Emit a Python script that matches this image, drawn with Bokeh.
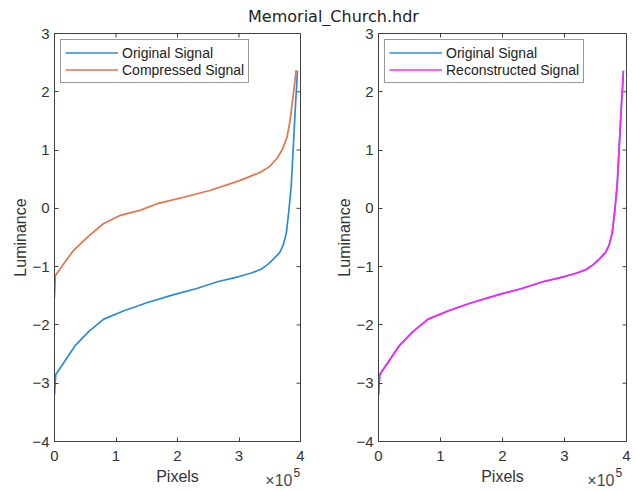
import math
from bokeh.plotting import figure
from bokeh.models import Label, FixedTicker, Range1d
from bokeh.layouts import column, row
from bokeh.embed import file_html
from bokeh.resources import INLINE

title_text = "Memorial_Church.hdr"
x_label = "Pixels"
y_label = "Luminance"
x_ticks = [0, 100000, 200000, 300000, 400000]
x_tick_labels = ["0", "1", "2", "3", "4"]
x_scale_base = "×10"
x_scale_exp = "5"
y_ticks = [-4, -3, -2, -1, 0, 1, 2, 3]

# Original signal (luminance, sorted)
orig_x = [0, 2000, 15000, 34000, 55000, 80000, 112000, 150000, 194000, 230000,
          265000, 300000, 320000, 335000, 346000, 356000, 366000, 372000, 377000,
          381000, 385000, 389000, 392000, 394000, 395000]
orig_y = [-3.2, -2.85, -2.65, -2.35, -2.12, -1.9, -1.76, -1.62, -1.48, -1.38,
          -1.26, -1.17, -1.11, -1.05, -0.97, -0.87, -0.76, -0.63, -0.42,
          -0.05, 0.4, 1.2, 1.8, 2.15, 2.36]

# Compressed signal
comp_x = [0, 1500, 15000, 31000, 55000, 80000, 107000, 140000, 167000, 210000,
          254000, 302000, 335000, 350000, 362000, 371000, 378000, 383000, 387000,
          390000, 393000]
comp_y = [-1.53, -1.15, -0.95, -0.72, -0.48, -0.26, -0.12, -0.03, 0.08, 0.19,
          0.31, 0.48, 0.62, 0.72, 0.86, 1.02, 1.22, 1.5, 1.85, 2.1, 2.37]

# Reconstructed signal
recon_x = [0, 2000, 15000, 34000, 55000, 80000, 112000, 150000, 194000, 230000,
           265000, 300000, 320000, 335000, 346000, 356000, 366000, 372000, 377000,
           381000, 385000, 389000, 392000, 394000, 395000]
recon_y = [-3.2, -2.85, -2.65, -2.35, -2.12, -1.9, -1.76, -1.62, -1.48, -1.38,
           -1.26, -1.17, -1.11, -1.05, -0.97, -0.87, -0.76, -0.63, -0.42,
           -0.05, 0.4, 1.2, 1.8, 2.15, 2.36]

BLUE = "#2b8cd6"
ORANGE = "#e4744a"
MAGENTA = "#ff22ff"
AX = "#404040"
FONT = "Liberation Sans"
X_MIN, X_MAX = 0, 400000
Y_MIN, Y_MAX = -4, 3


def make_panel(width, border_left, border_right):
    p = figure(width=width, height=441, x_range=Range1d(X_MIN, X_MAX),
               y_range=Range1d(Y_MIN, Y_MAX), toolbar_location=None,
               output_backend="svg", min_border_left=border_left,
               min_border_right=border_right, min_border_top=7,
               min_border_bottom=26)
    p.xgrid.visible = False
    p.ygrid.visible = False
    p.outline_line_color = AX
    p.outline_line_width = 1
    p.background_fill_color = "white"
    p.border_fill_color = "white"

    for ax in p.xaxis:
        ax.ticker = FixedTicker(ticks=x_ticks)
        ax.major_label_overrides = {t: l for t, l in zip(x_ticks, x_tick_labels)}
        ax.major_label_standoff = 9
    for ax in p.yaxis:
        ax.ticker = FixedTicker(ticks=y_ticks)
        ax.axis_label = y_label
        ax.major_label_standoff = 5
        ax.axis_label_standoff = 0
    for ax in p.xaxis + p.yaxis:
        ax.major_tick_in = 4
        ax.major_tick_out = 0
        ax.minor_tick_line_color = None
        ax.axis_line_color = AX
        ax.major_tick_line_color = AX
        ax.major_label_text_font = FONT
        ax.major_label_text_font_size = "15px"
        ax.major_label_text_color = "#333333"
        ax.axis_label_text_font = FONT
        ax.axis_label_text_font_size = "16px"
        ax.axis_label_text_font_style = "normal"
        ax.axis_label_text_color = "#333333"

    # box ticks on the top and right edges (MATLAB "box on")
    p.ray(x=x_ticks, y=[Y_MAX] * len(x_ticks), length=4, length_units="screen",
          angle=-math.pi / 2, line_color=AX, line_width=1)
    p.ray(x=[X_MAX] * len(y_ticks), y=y_ticks, length=4, length_units="screen",
          angle=math.pi, line_color=AX, line_width=1)
    return p


def style_legend(p):
    lg = p.legend[0]
    lg.location = "top_left"
    lg.margin = 6
    lg.padding = 4
    lg.spacing = 0
    lg.glyph_width = 53
    lg.glyph_height = 17
    lg.label_height = 17
    lg.label_standoff = 4
    lg.label_text_font = FONT
    lg.label_text_font_size = "14px"
    lg.label_text_color = "#222222"
    lg.border_line_color = "#333333"
    lg.border_line_width = 1.5
    lg.background_fill_alpha = 1


left = make_panel(318, 54, 18)
left.line(orig_x, orig_y, line_color=BLUE, line_width=1.7, legend_label="Original Signal")
left.line(comp_x, comp_y, line_color=ORANGE, line_width=1.7, legend_label="Compressed Signal")
style_legend(left)

right = make_panel(317, 60, 9)
right.line(orig_x, orig_y, line_color=BLUE, line_width=1.7, legend_label="Original Signal")
right.line(recon_x, recon_y, line_color=MAGENTA, line_width=1.7,
           legend_label="Reconstructed Signal")
style_legend(right)


def strip(width, height):
    s = figure(width=width, height=height, x_range=Range1d(0, width),
               y_range=Range1d(0, height), toolbar_location=None,
               output_backend="svg", min_border=0,
               x_axis_location=None, y_axis_location=None)
    s.xgrid.visible = False
    s.ygrid.visible = False
    s.outline_line_color = None
    return s


head = strip(635, 26)
head.add_layout(Label(x=333, y=10, text=title_text, text_align="center",
                      text_baseline="middle", text_font="DejaVu Sans",
                      text_font_size="16px", text_color="#222222"))

foot = strip(635, 24)
for cx, rx in [(177, 292), (502, 614)]:
    foot.add_layout(Label(x=cx, y=15, text=x_label, text_align="center",
                          text_baseline="middle", text_font=FONT,
                          text_font_size="16px", text_color="#333333"))
    foot.add_layout(Label(x=rx, y=11, text=x_scale_base, text_align="right",
                          text_baseline="middle", text_font=FONT,
                          text_font_size="16px", text_color="#4a4a4a"))
    foot.add_layout(Label(x=rx + 1, y=19, text=x_scale_exp, text_align="left",
                          text_baseline="middle", text_font=FONT,
                          text_font_size="12px", text_color="#333333"))

layout = column(head, row(left, right), foot, spacing=0)
open("out.html", "w").write(file_html(layout, INLINE))
